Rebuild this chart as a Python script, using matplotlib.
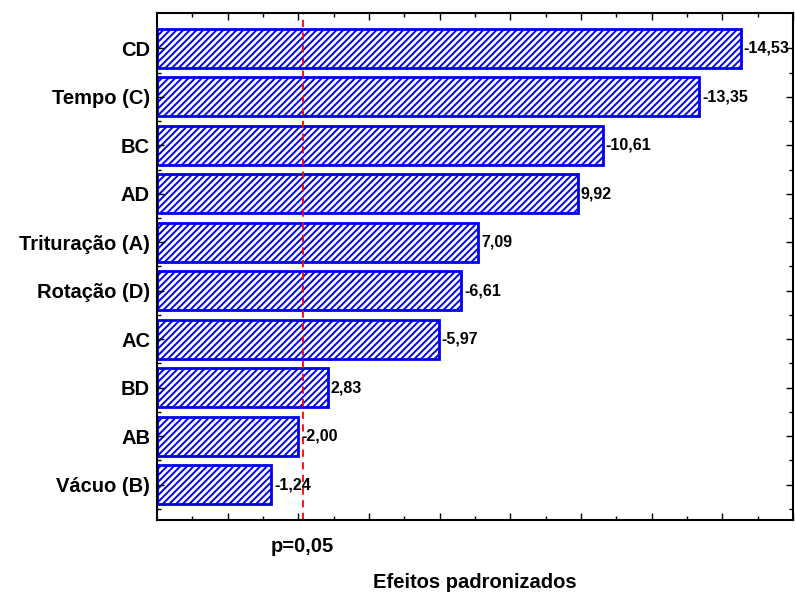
import matplotlib
matplotlib.use("Agg")
import matplotlib.pyplot as plt
import numpy as np

plt.rcParams['font.family'] = ['Liberation Sans', 'DejaVu Sans']
plt.rcParams['hatch.linewidth'] = 1.4
plt.rcParams['hatch.color'] = '#3c3cff'

fatores = ['CD', 'Tempo (C)', 'BC', 'AD', 'Trituração (A)', 'Rotação (D)',
           'AC', 'BD', 'AB', 'Vácuo (B)']
efeitos = [-14.53, -13.35, -10.61, 9.92, 7.09, -6.61, -5.97, 2.83, -2.00, -1.24]
p_critico = 2.12
x_min, x_max = -2, 16

fig = plt.figure(figsize=(7.95, 5.95), dpi=100)
ax = fig.add_axes([157 / 795, 75 / 595, 636 / 795, 507 / 595])

y = np.arange(len(fatores))
absolutos = np.abs(efeitos)
ax.barh(y, absolutos - x_min, left=x_min, height=0.8, color='white',
        edgecolor='#0000ee', linewidth=2, hatch='/////')

for yi, v, a in zip(y, efeitos, absolutos):
    ax.annotate(f"{v:.2f}".replace('.', ','), (a, yi), xytext=(2, 0),
                textcoords='offset points', va='center', ha='left',
                fontsize=11.5, fontweight='bold', annotation_clip=False)

ax.axvline(p_critico, color='red', linestyle=(0, (4, 3)), linewidth=1.3)
ax.text(p_critico, -0.053, 'p=0,05', transform=ax.get_xaxis_transform(),
        ha='center', va='center', fontsize=14.5, fontweight='bold')

ax.set_xlim(x_min, x_max)
ax.set_ylim(len(fatores) - 0.27, -0.73)
ax.set_yticks(y)
ax.set_yticklabels(fatores, fontsize=14.5, fontweight='bold')
ax.set_yticks(y + 0.5, minor=True)
ax.set_xticks(np.arange(0, 17, 2))
ax.set_xticks(np.arange(-1, 16, 2), minor=True)
ax.set_xticklabels([])
ax.tick_params(axis='both', which='both', direction='in', top=True, right=True,
               width=1, color='black')
ax.tick_params(axis='y', which='major', length=5, pad=5)
ax.tick_params(axis='x', which='major', length=5)
ax.tick_params(axis='both', which='minor', length=3)
for s in ax.spines.values():
    s.set_linewidth(1.5)

ax.set_xlabel('Efeitos padronizados', fontsize=14.5, fontweight='bold', labelpad=35)

fig.savefig('out.png', dpi=100)
